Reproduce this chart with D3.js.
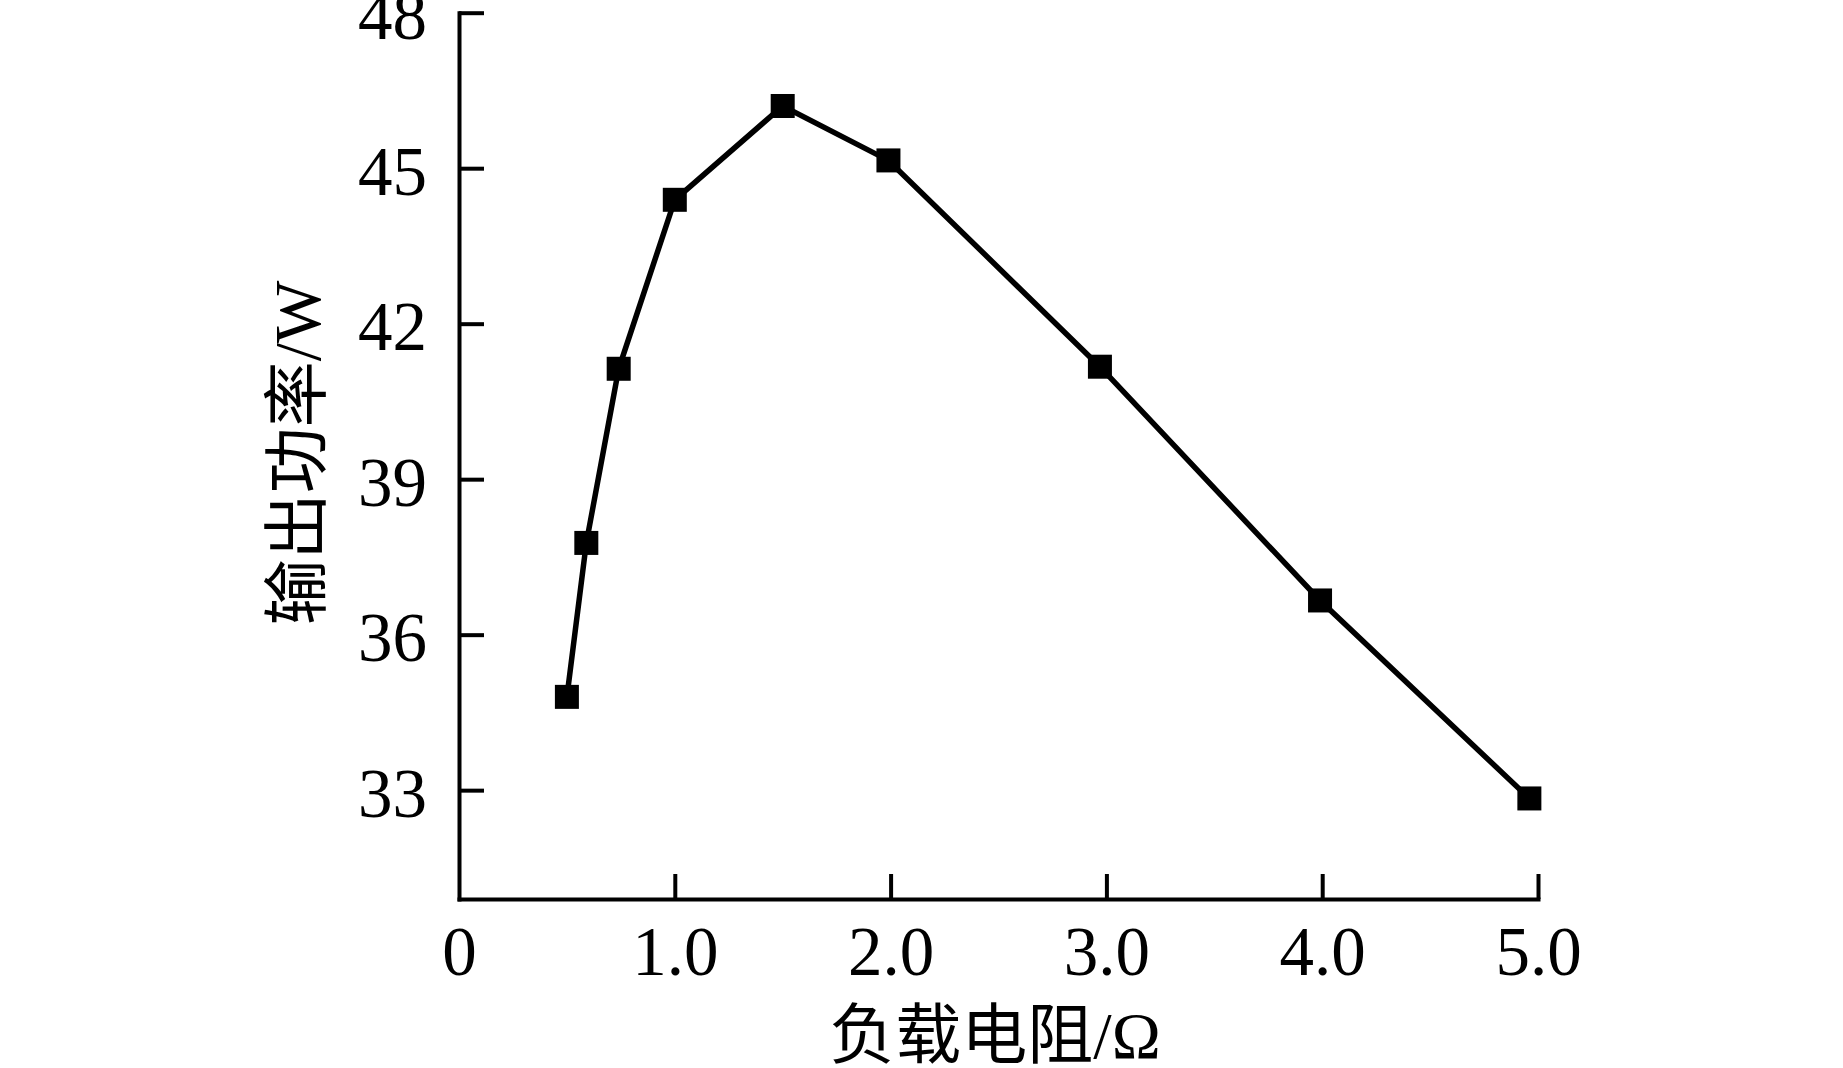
<!DOCTYPE html>
<html>
<head>
<meta charset="utf-8">
<script src="https://cdn.jsdelivr.net/npm/d3@7"></script>
<style>
  html, body { margin: 0; padding: 0; background: #fff; }
  svg { display: block; }
  text { font-family: "Liberation Serif", "Times New Roman", "Noto Sans CJK SC", serif; fill: #000; }
</style>
</head>
<body>
<svg id="chart" width="1843" height="1068"></svg>
<script>
// Data
const resistance = [0.5, 0.59, 0.74, 1.0, 1.5, 1.99, 2.97, 3.99, 4.96];   // 负载电阻/Ω
const power      = [34.8, 37.77, 41.13, 44.39, 46.2, 45.15, 41.17, 36.66, 32.84]; // 输出功率/W
const xTicks = [0, 1, 2, 3, 4, 5];
const xTickLabels = ["0", "1.0", "2.0", "3.0", "4.0", "5.0"];
const yTicks = [33, 36, 39, 42, 45, 48];
const xTitle = "负载电阻/Ω";
const yTitle = "输出功率/W";

const svg = d3.select("#chart");
const x = d3.scaleLinear().domain([0, 5]).range([459, 1538]);
const y = d3.scaleLinear().domain([30.9, 48]).range([899, 12.7]);

const fontSize = 69;

// X axis
const gx = svg.append("g").attr("transform", `translate(0,${y(30.9)})`)
  .call(d3.axisBottom(x).tickValues(xTicks)
    .tickFormat((d, i) => xTickLabels[i])
    .tickSizeInner(-25).tickSizeOuter(0).tickPadding(27));

// Y axis
const gy = svg.append("g").attr("transform", `translate(${x(0)},0)`)
  .call(d3.axisLeft(y).tickValues(yTicks)
    .tickFormat(d3.format("d"))
    .tickSizeInner(-25).tickSizeOuter(0).tickPadding(32));

[gx, gy].forEach(g => {
  g.select(".domain").attr("stroke", "#000").attr("stroke-width", 4).attr("stroke-linecap", "square");
  g.selectAll(".tick line").attr("stroke", "#000").attr("stroke-width", 4);
  g.selectAll(".tick text").attr("font-size", fontSize)
    .attr("font-family", '"Liberation Serif", "Times New Roman", serif').attr("fill", "#000");
});
gx.selectAll(".tick").filter(d => d === 0).select("line").remove();
gy.selectAll(".tick text").attr("dy", "0.38em");

// Line
const pts = resistance.map((r, i) => [r, power[i]]);
svg.append("path")
  .datum(pts)
  .attr("fill", "none")
  .attr("stroke", "#000")
  .attr("stroke-width", 5.5)
  .attr("stroke-linejoin", "miter")
  .attr("d", d3.line().x(d => x(d[0])).y(d => y(d[1])));

// Square markers
const ms = 24;
svg.append("g").selectAll("rect")
  .data(pts)
  .join("rect")
  .attr("x", d => x(d[0]) - ms / 2)
  .attr("y", d => y(d[1]) - ms / 2)
  .attr("width", ms)
  .attr("height", ms)
  .attr("fill", "#000");

// Axis titles
svg.append("text")
  .attr("x", 995)
  .attr("y", 1058)
  .attr("text-anchor", "middle")
  .attr("font-size", 66)
  .text(xTitle);

svg.append("text")
  .attr("transform", "translate(320,453) rotate(-90)")
  .attr("text-anchor", "middle")
  .attr("font-size", 66)
  .text(yTitle);
</script>
</body>
</html>
